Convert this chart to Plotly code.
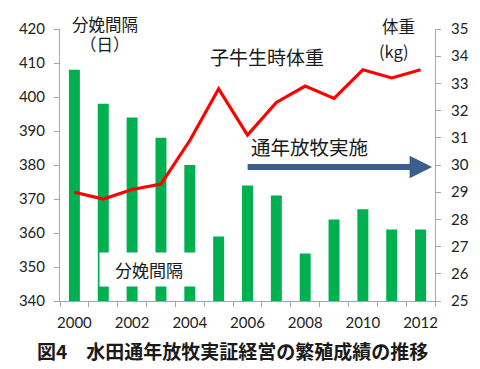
import plotly.graph_objects as go

years = [2000, 2001, 2002, 2003, 2004, 2005, 2006, 2007, 2008, 2009, 2010, 2011, 2012]
calving_interval = [408, 398, 394, 388, 380, 359, 374, 371, 354, 364, 367, 361, 361]
birth_weight = [29.0, 28.75, 29.1, 29.3, 30.9, 32.8, 31.1, 32.3, 32.9, 32.45, 33.5, 33.2, 33.5]
tick_years = [2000, 2002, 2004, 2006, 2008, 2010, 2012]

idx = list(range(len(years)))
JP = "Noto Sans CJK JP"
NUM = "Lato"

OFF = 8  # page body margin
W, H = 480 - OFF, 369 - OFF
L, R, T, B = 47, 438, 19, 301  # plot area in window pixels
def px(x):
    return (x - L) / (R - L)
def py(y):
    return (B - y) / (B - T)

fig = go.Figure()
fig.add_trace(go.Bar(x=idx, y=calving_interval, marker=dict(color="#00B050", line=dict(width=0)),
                     width=0.38, yaxis="y", base=0))
fig.add_trace(go.Scatter(x=idx, y=birth_weight, mode="lines", line=dict(color="#FF0000", width=3.2),
                         yaxis="y2"))
fig.add_trace(go.Scatter(x=[years.index(y) for y in tick_years], y=[None]*len(tick_years),
                         xaxis="x2", yaxis="y", mode="markers", hoverinfo="skip"))

fig.update_layout(
    width=W, height=H,
    margin=dict(l=L - OFF, r=480 - R, t=T - OFF, b=369 - B),
    plot_bgcolor="white", paper_bgcolor="white",
    showlegend=False,
    xaxis=dict(range=[-0.5, 12.5], tick0=-0.5, dtick=1, ticks="outside", ticklen=5,
               tickcolor="#A6A6A6", showticklabels=False, showgrid=False,
               showline=True, linecolor="#A6A6A6", linewidth=1, zeroline=False),
    xaxis2=dict(range=[-0.5, 12.5], overlaying="x", side="bottom",
                tickvals=[years.index(y) for y in tick_years],
                ticktext=[str(y) for y in tick_years], ticks="", showgrid=False,
                showline=False, zeroline=False, ticklabelstandoff=11,
                tickfont=dict(family=NUM, size=15, color="#222")),
    yaxis=dict(range=[340, 420], dtick=10, ticks="outside", ticklen=5, tickcolor="#A6A6A6",
               showline=True, linecolor="#A6A6A6", showgrid=False, zeroline=False,
               ticklabelstandoff=6, tickfont=dict(family=NUM, size=15, color="#222")),
    yaxis2=dict(range=[25, 35], dtick=1, overlaying="y", side="right", ticks="outside", ticklen=5,
                tickcolor="#A6A6A6", showline=True, linecolor="#A6A6A6", showgrid=False,
                zeroline=False, ticklabelstandoff=7,
                tickfont=dict(family=NUM, size=15, color="#222")),
)

def label(x, y, text, size, **kw):
    fig.add_annotation(x=px(x), y=py(y), xref="paper", yref="paper", text=text,
                       showarrow=False, font=dict(family=JP, size=size, color="#1a1a1a"),
                       xanchor=kw.pop("xanchor", "center"), yanchor="middle", **kw)

label(94, 14, "分娩間隔", 16.5)
label(94, 35, "（日）", 16.5)
label(400, 16, "体重", 16.5)
label(395, 42, "(kg)", 16.5)
label(263, 48, "子牛生時体重", 19)
label(307, 141, "通年放牧実施", 19.5)
fig.add_annotation(x=px(435), y=py(162), ax=-186, ay=0, xref="paper", yref="paper",
                   axref="pixel", ayref="pixel", text="", showarrow=True, arrowhead=2,
                   arrowsize=0.75, arrowwidth=6, arrowcolor="#3B5E8C")
label(140, 268, "分娩間隔", 17, bgcolor="white", width=96, height=31)
label(227, 352, "<b>図4　水田通年放牧実証経営の繁殖成績の推移</b>", 19)

fig.write_html("out.html")
